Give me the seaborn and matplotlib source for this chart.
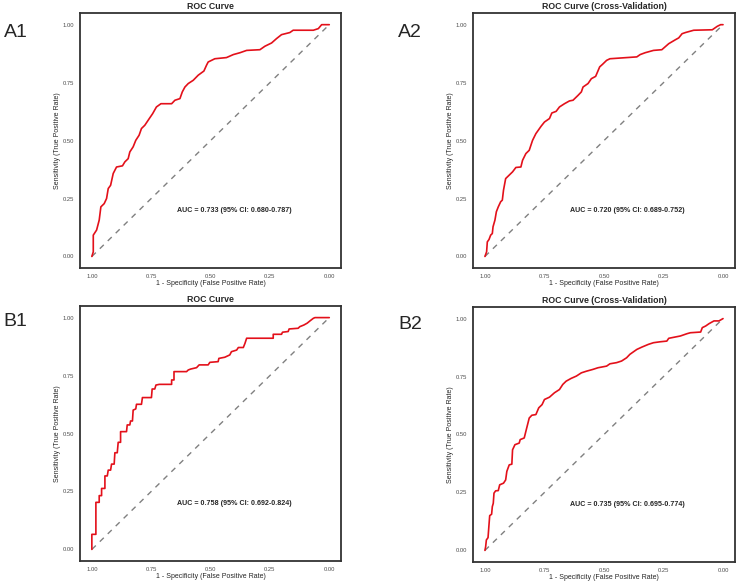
import numpy as np
import pandas as pd
import matplotlib
matplotlib.use("Agg")
import matplotlib.pyplot as plt
import seaborn as sns

# specificity / sensitivity
a1_spec = [1.0, 0.994, 0.994, 0.980, 0.969, 0.962, 0.948, 0.938, 0.931, 0.921, 0.910, 0.896, 0.871, 0.861,
           0.847, 0.840, 0.826, 0.815, 0.801, 0.791, 0.777, 0.758, 0.744, 0.728, 0.709, 0.664, 0.650, 0.629,
           0.619, 0.608, 0.594, 0.573, 0.552, 0.528, 0.517, 0.510, 0.482, 0.433, 0.404, 0.376, 0.348, 0.292,
           0.271, 0.243, 0.222, 0.201, 0.166, 0.152, 0.067, 0.046, 0.032, 0.0]
a1_sens = [0.0, 0.02, 0.092, 0.114, 0.157, 0.214, 0.228, 0.25, 0.293, 0.307, 0.358, 0.386, 0.391, 0.408,
           0.422, 0.451, 0.473, 0.501, 0.523, 0.552, 0.566, 0.595, 0.616, 0.645, 0.659, 0.659, 0.674, 0.681,
           0.710, 0.731, 0.746, 0.760, 0.782, 0.800, 0.825, 0.839, 0.853, 0.858, 0.871, 0.879, 0.889, 0.892,
           0.907, 0.921, 0.940, 0.957, 0.966, 0.976, 0.976, 0.983, 1.0, 1.0]

a2_spec = [1.0, 0.993, 0.990, 0.983, 0.976, 0.969, 0.966, 0.958, 0.952, 0.944, 0.934, 0.927, 0.922, 0.913,
           0.898, 0.884, 0.870, 0.849, 0.842, 0.828, 0.814, 0.800, 0.786, 0.764, 0.750, 0.729, 0.719, 0.701,
           0.687, 0.666, 0.645, 0.630, 0.609, 0.595, 0.588, 0.567, 0.553, 0.535, 0.518, 0.506, 0.489, 0.475,
           0.433, 0.362, 0.348, 0.327, 0.292, 0.257, 0.228, 0.200, 0.186, 0.172, 0.158, 0.123, 0.045, 0.024,
           0.010, 0.0]
a2_sens = [0.0, 0.02, 0.063, 0.073, 0.092, 0.099, 0.128, 0.157, 0.193, 0.214, 0.236, 0.243, 0.286, 0.336,
           0.351, 0.365, 0.384, 0.386, 0.415, 0.444, 0.458, 0.501, 0.530, 0.562, 0.580, 0.595, 0.619, 0.626,
           0.645, 0.659, 0.671, 0.674, 0.695, 0.710, 0.731, 0.746, 0.767, 0.777, 0.818, 0.829, 0.846, 0.853,
           0.856, 0.861, 0.871, 0.879, 0.889, 0.892, 0.918, 0.935, 0.943, 0.961, 0.966, 0.976, 0.978, 0.993,
           1.0, 1.0]

b1_spec = [1.0, 1.0, 0.983, 0.983, 0.969, 0.969, 0.959, 0.959, 0.945, 0.945, 0.935, 0.931, 0.921, 0.917,
           0.906, 0.903, 0.893, 0.889, 0.879, 0.879, 0.854, 0.851, 0.840, 0.837, 0.829, 0.826, 0.815, 0.812,
           0.791, 0.787, 0.749, 0.746, 0.735, 0.730, 0.716, 0.664, 0.664, 0.654, 0.654, 0.601, 0.594, 0.584,
           0.559, 0.548, 0.510, 0.503, 0.468, 0.465, 0.440, 0.419, 0.412, 0.390, 0.383, 0.362, 0.355, 0.348,
           0.236, 0.236, 0.201, 0.197, 0.173, 0.169, 0.131, 0.124, 0.107, 0.093, 0.081, 0.067, 0.060, 0.0]
b1_sens = [0.0, 0.065, 0.065, 0.203, 0.203, 0.232, 0.232, 0.263, 0.263, 0.317, 0.317, 0.342, 0.342, 0.368,
           0.368, 0.417, 0.417, 0.462, 0.462, 0.508, 0.508, 0.537, 0.537, 0.554, 0.554, 0.601, 0.606, 0.626,
           0.626, 0.655, 0.655, 0.692, 0.692, 0.709, 0.712, 0.712, 0.731, 0.731, 0.767, 0.767, 0.774, 0.778,
           0.784, 0.796, 0.796, 0.807, 0.810, 0.824, 0.829, 0.839, 0.853, 0.860, 0.871, 0.871, 0.889, 0.911,
           0.911, 0.928, 0.928, 0.937, 0.940, 0.951, 0.954, 0.961, 0.968, 0.976, 0.986, 0.997, 1.0, 1.0]

b2_spec = [1.0, 0.997, 0.994, 0.987, 0.983, 0.980, 0.972, 0.969, 0.965, 0.962, 0.955, 0.944, 0.938, 0.922,
           0.913, 0.908, 0.898, 0.887, 0.884, 0.874, 0.856, 0.852, 0.835, 0.828, 0.814, 0.803, 0.786, 0.774,
           0.760, 0.750, 0.729, 0.708, 0.687, 0.673, 0.659, 0.638, 0.616, 0.595, 0.574, 0.546, 0.525, 0.489,
           0.475, 0.447, 0.426, 0.405, 0.391, 0.362, 0.341, 0.313, 0.292, 0.264, 0.236, 0.228, 0.179, 0.151,
           0.137, 0.094, 0.087, 0.073, 0.059, 0.038, 0.017, 0.0]
b2_sens = [0.0, 0.016, 0.045, 0.055, 0.110, 0.150, 0.156, 0.189, 0.203, 0.247, 0.257, 0.258, 0.283, 0.290,
           0.304, 0.341, 0.369, 0.372, 0.434, 0.456, 0.463, 0.478, 0.485, 0.514, 0.571, 0.583, 0.586, 0.615,
           0.629, 0.651, 0.661, 0.680, 0.694, 0.716, 0.730, 0.742, 0.752, 0.766, 0.773, 0.781, 0.788, 0.795,
           0.805, 0.810, 0.817, 0.831, 0.846, 0.867, 0.877, 0.889, 0.896, 0.900, 0.903, 0.915, 0.925, 0.935,
           0.939, 0.942, 0.961, 0.968, 0.978, 0.990, 0.990, 1.0]

titles = ["ROC Curve", "ROC Curve (Cross-Validation)", "ROC Curve", "ROC Curve (Cross-Validation)"]
panel_labels = ["A1", "A2", "B1", "B2"]
auc_texts = ["AUC = 0.733 (95% CI: 0.680-0.787)", "AUC = 0.720 (95% CI: 0.689-0.752)",
             "AUC = 0.758 (95% CI: 0.692-0.824)", "AUC = 0.735 (95% CI: 0.695-0.774)"]
ticks = [1.0, 0.75, 0.5, 0.25, 0.0]
tick_labels = ["1.00", "0.75", "0.50", "0.25", "0.00"]

sns.set_theme(style="white")
plt.rcParams['font.family'] = ['Liberation Sans', 'DejaVu Sans']

fig = plt.figure(figsize=(7.44, 5.84), dpi=100)
boxes = [[0.1075, 0.541, 0.351, 0.4366], [0.6358, 0.541, 0.352, 0.4366],
         [0.1075, 0.0394, 0.351, 0.4366], [0.6358, 0.0377, 0.352, 0.4366]]
label_pos = [(0.005, 0.945), (0.535, 0.945), (0.005, 0.449), (0.535, 0.445)]
curves = [(a1_spec, a1_sens), (a2_spec, a2_sens), (b1_spec, b1_sens), (b2_spec, b2_sens)]

for i in range(4):
    ax = fig.add_axes(boxes[i])
    df = pd.DataFrame({"spec": curves[i][0], "sens": curves[i][1]})
    ax.plot([1, 0], [0, 1], color="#808080", lw=1.0, ls=(0, (4, 4)))
    sns.lineplot(data=df, x="spec", y="sens", sort=False, estimator=None, color="#E3101A", lw=1.2, ax=ax)
    ax.set_xlim(1.05, -0.05)
    ax.set_ylim(-0.05, 1.05)
    ax.set_xticks(ticks)
    ax.set_xticklabels(tick_labels)
    ax.set_yticks(ticks)
    ax.set_yticklabels(tick_labels)
    ax.tick_params(length=0, labelsize=4.2, labelcolor="#4D4D4D", pad=4)
    ax.set_xlabel("1 - Specificity (False Positive Rate)", fontsize=5.0, labelpad=1)
    ax.set_ylabel("Sensitivity (True Positive Rate)", fontsize=5.0, labelpad=1.5)
    ax.set_title(titles[i], fontsize=6.3, fontweight="bold", pad=3)
    for s in ax.spines.values():
        s.set_color("#333333")
        s.set_linewidth(1.3)
    ax.text(0.4, 0.2, auc_texts[i], fontsize=5.1, fontweight="bold", ha="center", va="center")
    fig.text(label_pos[i][0], label_pos[i][1], panel_labels[i], fontsize=14, ha="left", va="center")

fig.savefig("out.png", dpi=100)
